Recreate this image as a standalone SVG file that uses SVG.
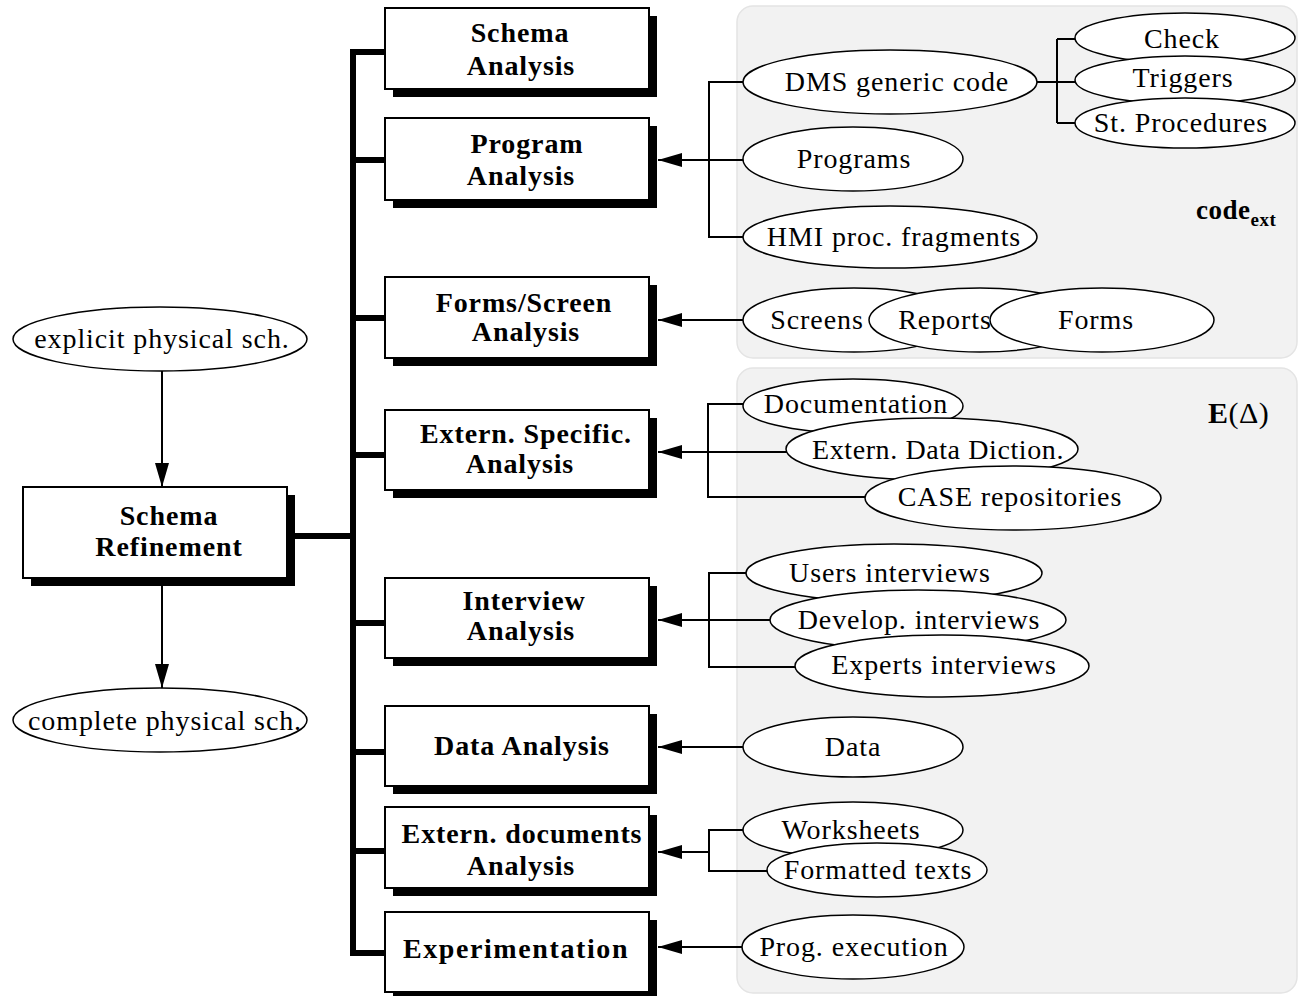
<svg xmlns="http://www.w3.org/2000/svg" width="1299" height="996" viewBox="0 0 1299 996">
<defs>
<style>
.panel{fill:#f2f2f2;stroke:#e4e4e4;stroke-width:1.5}
.box{fill:#fff;stroke:#000;stroke-width:2}
.shadow{fill:#000}
.ell{fill:#fff;stroke:#000;stroke-width:1.5}
.lbl{font-family:"Liberation Serif","Times New Roman",serif;font-size:28px;letter-spacing:0.9px;text-anchor:middle;fill:#000}
.blbl{font-family:"Liberation Serif","Times New Roman",serif;font-size:28px;font-weight:bold;letter-spacing:0.9px;text-anchor:middle;fill:#000}
.wire{stroke:#000;stroke-width:2;fill:none}
.bus{stroke:#000;stroke-width:6;fill:none}
</style>
<marker id="ah" markerUnits="userSpaceOnUse" markerWidth="24" markerHeight="14" refX="24" refY="7" orient="auto">
<path d="M0,0 L24,7 L0,14 z" fill="#000"/>
</marker>
</defs>
<rect width="1299" height="996" fill="#fff"/>

<g id="panels">
<rect class="panel" x="737" y="6" width="560" height="352" rx="16"/>
<rect class="panel" x="737" y="368" width="560" height="625" rx="16"/>
<text x="1196" y="219" style="font-family:'Liberation Serif',serif;font-size:27px;font-weight:bold;letter-spacing:0.5px">code<tspan dy="7" style="font-size:19px">ext</tspan></text>
<text x="1208" y="423" style="font-family:'Liberation Serif',serif;font-size:30px;letter-spacing:0.5px"><tspan font-weight="bold">E</tspan>(Δ)</text>
</g>

<g id="connectors">
<path class="bus" d="M385,52 H353 V953 H385"/>
<path class="bus" d="M353,160 H385 M353,318 H385 M353,455 H385 M353,623 H385 M353,752 H385 M353,851 H385"/>
<path class="bus" d="M295,536 H353"/>
<line class="wire" x1="162" y1="371" x2="162" y2="487" marker-end="url(#ah)"/>
<line class="wire" x1="162" y1="586" x2="162" y2="688" marker-end="url(#ah)"/>
<path class="wire" d="M743,82 H709 V237 H743"/>
<line class="wire" x1="743" y1="160" x2="658" y2="160" marker-end="url(#ah)"/>
<path class="wire" d="M1037,82 H1075 M1057,39 V123 M1057,39 H1075 M1057,123 H1075"/>
<line class="wire" x1="743" y1="320" x2="658" y2="320" marker-end="url(#ah)"/>
<path class="wire" d="M745,404 H708 V497 H865"/>
<line class="wire" x1="787" y1="452" x2="658" y2="452" marker-end="url(#ah)"/>
<path class="wire" d="M746,573 H709 V667 H795"/>
<line class="wire" x1="770" y1="620" x2="658" y2="620" marker-end="url(#ah)"/>
<line class="wire" x1="743" y1="747" x2="658" y2="747" marker-end="url(#ah)"/>
<path class="wire" d="M743,830 H709 V871 H767"/>
<line class="wire" x1="709" y1="852" x2="658" y2="852" marker-end="url(#ah)"/>
<line class="wire" x1="742" y1="947" x2="658" y2="947" marker-end="url(#ah)"/>
</g>

<g id="schema-refinement">
<rect class="shadow" x="31" y="495" width="264" height="91"/>
<rect class="box" x="23" y="487" width="264" height="91"/>
<text class="blbl" x="169" y="525">Schema</text>
<text class="blbl" x="169" y="556">Refinement</text>
</g>
<g id="schema-analysis">
<rect class="shadow" x="393" y="16" width="264" height="81"/>
<rect class="box" x="385" y="8" width="264" height="81"/>
<text class="blbl" x="520" y="42">Schema</text>
<text class="blbl" x="521" y="75">Analysis</text>
</g>
<g id="program-analysis">
<rect class="shadow" x="393" y="126" width="264" height="82"/>
<rect class="box" x="385" y="118" width="264" height="82"/>
<text class="blbl" x="527" y="153">Program</text>
<text class="blbl" x="521" y="185">Analysis</text>
</g>
<g id="forms-screen-analysis">
<rect class="shadow" x="393" y="285" width="264" height="81"/>
<rect class="box" x="385" y="277" width="264" height="81"/>
<text class="blbl" x="524" y="312">Forms/Screen</text>
<text class="blbl" x="526" y="341">Analysis</text>
</g>
<g id="extern-specific-analysis">
<rect class="shadow" x="393" y="418" width="264" height="80"/>
<rect class="box" x="385" y="410" width="264" height="80"/>
<text class="blbl" x="526" y="443">Extern. Specific.</text>
<text class="blbl" x="520" y="473">Analysis</text>
</g>
<g id="interview-analysis">
<rect class="shadow" x="393" y="586" width="264" height="80"/>
<rect class="box" x="385" y="578" width="264" height="80"/>
<text class="blbl" x="524" y="610">Interview</text>
<text class="blbl" x="521" y="640">Analysis</text>
</g>
<g id="data-analysis">
<rect class="shadow" x="393" y="714" width="264" height="80"/>
<rect class="box" x="385" y="706" width="264" height="80"/>
<text class="blbl" x="522" y="755">Data Analysis</text>
</g>
<g id="extern-documents-analysis">
<rect class="shadow" x="393" y="815" width="264" height="81"/>
<rect class="box" x="385" y="807" width="264" height="81"/>
<text class="blbl" x="522" y="843">Extern. documents</text>
<text class="blbl" x="521" y="875">Analysis</text>
</g>
<g id="experimentation">
<rect class="shadow" x="393" y="920" width="264" height="80"/>
<rect class="box" x="385" y="912" width="264" height="80"/>
<text class="blbl" x="516" y="958" style="letter-spacing:1.6px">Experimentation</text>
</g>

<g id="explicit-physical">
<ellipse class="ell" cx="160" cy="339" rx="147" ry="32"/>
<text class="lbl" x="162" y="348">explicit physical sch.</text>
</g>
<g id="complete-physical">
<ellipse class="ell" cx="160" cy="720" rx="147" ry="32"/>
<text class="lbl" x="165" y="730">complete physical sch.</text>
</g>

<g id="dms-generic-code">
<ellipse class="ell" cx="890" cy="82" rx="147" ry="32"/>
<text class="lbl" x="897" y="91">DMS generic code</text>
</g>
<g id="check">
<ellipse class="ell" cx="1185" cy="38" rx="110" ry="25"/>
<text class="lbl" x="1182" y="48">Check</text>
</g>
<g id="triggers">
<ellipse class="ell" cx="1185" cy="80" rx="110" ry="24"/>
<text class="lbl" x="1183" y="87">Triggers</text>
</g>
<g id="st-procedures">
<ellipse class="ell" cx="1185" cy="123" rx="110" ry="25"/>
<text class="lbl" x="1181" y="132">St. Procedures</text>
</g>
<g id="programs">
<ellipse class="ell" cx="853" cy="159" rx="110" ry="32"/>
<text class="lbl" x="854" y="168">Programs</text>
</g>
<g id="hmi">
<ellipse class="ell" cx="890" cy="237" rx="147" ry="31"/>
<text class="lbl" x="894" y="246">HMI proc. fragments</text>
</g>
<g id="screens">
<ellipse class="ell" cx="854" cy="320" rx="111" ry="32"/>
<text class="lbl" x="817" y="329">Screens</text>
</g>
<g id="reports">
<ellipse class="ell" cx="980" cy="320" rx="111" ry="32"/>
<text class="lbl" x="945" y="329">Reports</text>
</g>
<g id="forms">
<ellipse class="ell" cx="1102" cy="320" rx="112" ry="32"/>
<text class="lbl" x="1096" y="329">Forms</text>
</g>

<g id="documentation">
<ellipse class="ell" cx="853" cy="406" rx="110" ry="27"/>
<text class="lbl" x="856" y="413">Documentation</text>
</g>
<g id="extern-data-diction">
<ellipse class="ell" cx="932" cy="449" rx="146" ry="31"/>
<text class="lbl" x="938" y="459" style="letter-spacing:0.6px">Extern. Data Diction.</text>
</g>
<g id="case-repositories">
<ellipse class="ell" cx="1013" cy="498" rx="148" ry="32"/>
<text class="lbl" x="1010" y="506">CASE repositories</text>
</g>

<g id="users-interviews">
<ellipse class="ell" cx="894" cy="573" rx="148" ry="29"/>
<text class="lbl" x="890" y="582">Users interviews</text>
</g>
<g id="develop-interviews">
<ellipse class="ell" cx="918" cy="620" rx="148" ry="30"/>
<text class="lbl" x="919" y="629">Develop. interviews</text>
</g>
<g id="experts-interviews">
<ellipse class="ell" cx="942" cy="666" rx="147" ry="31"/>
<text class="lbl" x="944" y="674">Experts interviews</text>
</g>

<g id="data">
<ellipse class="ell" cx="853" cy="747" rx="110" ry="30"/>
<text class="lbl" x="853" y="756">Data</text>
</g>
<g id="worksheets">
<ellipse class="ell" cx="853" cy="830" rx="110" ry="28"/>
<text class="lbl" x="851" y="839">Worksheets</text>
</g>
<g id="formatted-texts">
<ellipse class="ell" cx="877" cy="870" rx="110" ry="27"/>
<text class="lbl" x="878" y="879">Formatted texts</text>
</g>
<g id="prog-execution">
<ellipse class="ell" cx="853" cy="947" rx="111" ry="32"/>
<text class="lbl" x="854" y="956">Prog. execution</text>
</g>
</svg>
